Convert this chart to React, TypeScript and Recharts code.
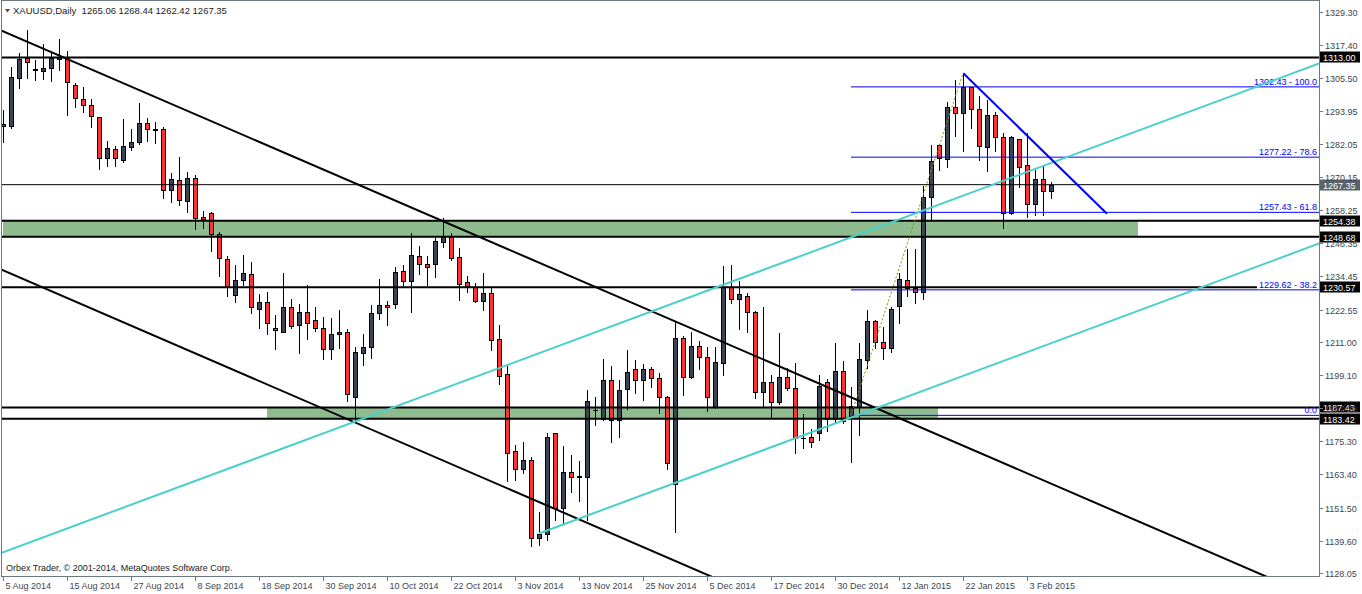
import React from 'react';
import { ComposedChart, Bar, XAxis, YAxis, ReferenceLine, ReferenceArea } from 'recharts';

const W = 1362;
const H = 594;
const PLOT_RIGHT = 1319;
const PLOT_BOTTOM = 576;
const FONT = '"Liberation Sans", Arial, sans-serif';
const BULL = '#3b4553';
const BEAR = '#ff3333';
const AXIS = '#6e7880';
const TXT = '#3c4650';
const CYAN = '#48D1CC';
const GREEN = '#8FBC8F';
const Y_MIN = 1126.97;
const Y_MAX = 1333.6;

const openP = [1288.41, 1288.41, 1305.52, 1312.69, 1308.49, 1308.24, 1309.10, 1312.33, 1313.05, 1303.11,
  1297.98, 1295.94, 1291.53, 1276.82, 1280.05, 1276.32, 1280.77, 1282.56, 1289.37, 1287.33,
  1287.22, 1265.34, 1268.93, 1261.61, 1269.75, 1255.66, 1257.09, 1249.56, 1240.70, 1227.68,
  1233.17, 1235.21, 1222.66, 1225.17, 1215.85, 1214.63, 1223.38, 1216.92, 1221.58, 1218.71,
  1215.85, 1208.31, 1213.69, 1214.41, 1191.31, 1207.09, 1209.03, 1221.23, 1224.09, 1224.45,
  1236.40, 1232.70, 1241.67, 1238.80, 1239.02, 1246.69, 1248.49, 1241.31, 1232.34, 1230.55,
  1225.75, 1228.40, 1211.90, 1199.45, 1171.73, 1165.49, 1168.50, 1140.52, 1141.96, 1178.18,
  1151.50, 1164.20, 1162.51, 1162.62, 1186.36, 1183.31, 1197.19, 1182.85, 1193.97, 1201.14,
  1197.19, 1201.14, 1197.91, 1191.10, 1160.00, 1212.26, 1198.27, 1209.50, 1205.44, 1187.51,
  1203.29, 1230.77, 1226.25, 1227.43, 1221.80, 1193.10, 1196.69, 1189.52, 1198.49, 1194.32,
  1176.32, 1176.75, 1178.18, 1196.48, 1183.21, 1200.53, 1184.50, 1187.72, 1204.48, 1218.46,
  1211.04, 1208.67, 1223.95, 1233.06, 1230.41, 1228.76, 1263.05, 1281.59, 1276.46, 1295.11,
  1292.96, 1302.29, 1294.40, 1280.98, 1292.24, 1284.35, 1257.09, 1283.64, 1274.31, 1260.32,
  1269.29, 1265.06];

const highP = [1294.15, 1309.46, 1314.48, 1322.84, 1312.08, 1317.71, 1315.06, 1319.61, 1315.31, 1303.94,
  1302.39, 1298.09, 1291.80, 1283.03, 1281.34, 1290.92, 1287.33, 1296.66, 1291.17, 1289.73,
  1288.05, 1271.55, 1277.29, 1271.91, 1270.83, 1258.03, 1257.67, 1250.28, 1241.78, 1238.55,
  1242.14, 1239.52, 1228.04, 1228.76, 1220.62, 1235.68, 1226.35, 1224.56, 1231.27, 1223.49,
  1220.01, 1219.54, 1222.41, 1215.59, 1209.25, 1213.69, 1224.20, 1233.53, 1225.75, 1237.94,
  1238.55, 1250.03, 1245.36, 1241.78, 1248.49, 1255.30, 1249.92, 1244.54, 1234.61, 1231.99,
  1235.79, 1230.19, 1217.03, 1203.04, 1173.99, 1174.96, 1169.79, 1149.96, 1178.18, 1178.40,
  1173.63, 1170.40, 1168.25, 1193.71, 1191.10, 1204.73, 1202.32, 1197.30, 1208.06, 1204.48,
  1203.04, 1201.86, 1199.92, 1191.40, 1218.11, 1213.08, 1214.63, 1211.40, 1209.03, 1209.03,
  1238.19, 1238.55, 1232.92, 1228.40, 1222.10, 1223.59, 1199.09, 1214.05, 1201.50, 1203.29,
  1185.00, 1179.62, 1199.09, 1197.66, 1210.47, 1204.12, 1194.90, 1210.47, 1222.41, 1218.82,
  1216.42, 1223.59, 1235.57, 1244.18, 1244.18, 1266.89, 1281.59, 1281.80, 1297.01, 1304.91,
  1307.31, 1302.50, 1299.17, 1297.73, 1293.54, 1286.00, 1284.82, 1283.80, 1286.00, 1272.62,
  1274.06, 1268.44];

const lowP = [1282.67, 1287.58, 1301.93, 1305.73, 1304.91, 1305.26, 1304.55, 1308.49, 1292.35, 1295.33,
  1293.54, 1287.94, 1272.88, 1274.17, 1274.17, 1275.39, 1279.80, 1282.06, 1283.13, 1282.42,
  1262.47, 1261.25, 1260.07, 1257.45, 1251.36, 1251.93, 1243.68, 1234.61, 1227.54, 1225.39,
  1231.38, 1221.44, 1215.85, 1213.69, 1208.31, 1214.41, 1215.85, 1206.88, 1212.12, 1214.98,
  1204.73, 1204.73, 1208.67, 1189.88, 1182.95, 1202.68, 1205.08, 1219.07, 1217.03, 1223.13,
  1230.77, 1221.80, 1235.32, 1231.38, 1234.35, 1245.11, 1240.34, 1226.00, 1228.76, 1225.39,
  1222.41, 1208.06, 1195.87, 1161.18, 1161.43, 1164.05, 1137.76, 1138.12, 1139.91, 1147.09,
  1146.12, 1157.13, 1153.90, 1147.09, 1181.16, 1183.00, 1175.17, 1176.96, 1186.79, 1192.75,
  1190.13, 1194.90, 1185.57, 1165.27, 1142.89, 1191.92, 1197.91, 1201.25, 1186.29, 1187.15,
  1199.09, 1224.81, 1215.59, 1214.63, 1190.74, 1187.72, 1183.92, 1188.69, 1193.71, 1171.01,
  1172.80, 1173.38, 1175.78, 1179.12, 1182.13, 1181.77, 1167.89, 1177.57, 1201.50, 1208.67,
  1204.73, 1207.45, 1217.85, 1227.43, 1225.03, 1226.25, 1254.44, 1272.62, 1273.81, 1284.93,
  1279.55, 1287.58, 1276.21, 1272.37, 1279.55, 1251.71, 1256.90, 1266.42, 1255.66, 1256.48,
  1256.48, 1262.42];

const closeP = [1289.12, 1305.87, 1312.44, 1311.25, 1308.85, 1309.21, 1312.69, 1313.26, 1304.08, 1298.34,
  1295.83, 1291.89, 1276.82, 1280.41, 1276.82, 1281.12, 1282.67, 1289.37, 1287.22, 1287.08,
  1265.34, 1269.29, 1261.76, 1269.75, 1255.30, 1254.94, 1249.56, 1240.95, 1230.55, 1233.17,
  1235.57, 1223.38, 1225.28, 1217.64, 1215.13, 1223.38, 1216.78, 1221.58, 1217.64, 1215.85,
  1208.31, 1213.69, 1214.41, 1192.17, 1207.24, 1209.14, 1221.23, 1224.09, 1223.38, 1235.93,
  1232.70, 1242.14, 1238.80, 1237.72, 1247.16, 1248.49, 1241.17, 1231.63, 1231.12, 1225.75,
  1228.40, 1211.76, 1198.84, 1171.23, 1165.49, 1168.50, 1140.52, 1141.96, 1176.75, 1151.28,
  1164.20, 1162.62, 1162.69, 1189.77, 1186.54, 1197.19, 1182.85, 1193.61, 1200.06, 1197.19,
  1201.14, 1197.91, 1191.10, 1167.43, 1212.26, 1198.27, 1209.50, 1205.44, 1191.10, 1203.65,
  1230.77, 1226.25, 1228.04, 1221.80, 1193.10, 1196.69, 1189.52, 1198.49, 1194.54, 1176.39,
  1176.50, 1175.17, 1195.26, 1183.21, 1200.53, 1182.60, 1188.08, 1204.83, 1218.57, 1211.04,
  1208.67, 1222.77, 1233.42, 1230.41, 1228.76, 1262.83, 1275.85, 1276.82, 1295.11, 1292.96,
  1302.29, 1294.40, 1281.34, 1292.24, 1284.35, 1257.31, 1284.35, 1273.81, 1260.32, 1269.29,
  1265.06, 1267.35];

const xTickIdx = [0, 8, 16, 24, 32, 40, 48, 56, 64, 72, 80, 88, 96, 104, 112, 120, 128];
const xTickLabels = ['5 Aug 2014', '15 Aug 2014', '27 Aug 2014', '8 Sep 2014', '18 Sep 2014', '30 Sep 2014',
  '10 Oct 2014', '22 Oct 2014', '3 Nov 2014', '13 Nov 2014', '25 Nov 2014', '5 Dec 2014', '17 Dec 2014',
  '30 Dec 2014', '12 Jan 2015', '22 Jan 2015', '3 Feb 2015'];
const yTicks = [1329.30, 1317.40, 1305.50, 1293.95, 1282.05, 1270.15, 1258.25, 1246.35, 1234.45, 1222.55,
  1211.00, 1199.10, 1187.20, 1175.30, 1163.40, 1151.50, 1139.60, 1128.05];

// horizontal levels
const thickLevels = [1313.00, 1254.38, 1248.68, 1187.43, 1183.42];
const currentPrice = 1267.35;
const supportLevel = 1230.57;
const supportEndIdx = 156.75;
// green zones [x1, x2, lowPrice, highPrice]
const zoneUpper = [0, 141.875, 1248.68, 1254.38];
const zoneLower = [33, 116.875, 1183.42, 1187.43];
// fibonacci
const fibStartIdx = 106;
const fibLevels = [1302.43, 1277.22, 1257.43, 1229.62, 1184.6];
const fibTexts = ['1302.43 - 100.0', '1277.22 - 78.6', '1257.43 - 61.8', '1229.62 - 38.2', '0.0'];
const fibBase = [106, 1184.6, 120, 1307.31];
// trendlines [x1, p1, x2, p2]
const blackChannelUpper = [-0.25, 1322.69, 164.5, 1118.61];
const blackChannelLower = [-0.25, 1236.97, 94.625, 1119.22];
const cyanUpper = [-0.25, 1135.21, 164.5, 1310.82];
const cyanLower = [67, 1142.21, 164.5, 1246.23];
const blueDown = [120.04, 1307.31, 138.0, 1256.95];

const data = openP.map((o, i) => ({
  i,
  o,
  h: highP[i],
  l: lowP[i],
  c: closeP[i],
  range: [lowP[i], highP[i]],
}));

function Candle(props: any) {
  const { x, y, width, height, payload } = props;
  if (!payload || x == null || y == null) return null;
  const { o, h, l, c } = payload;
  const cx = Math.round(x + width / 2);
  const span = h - l;
  const py = (p: number) => (span > 0 ? y + ((h - p) / span) * height : y);
  const bull = c >= o;
  const top = Math.round(py(Math.max(o, c)));
  const bot = Math.round(py(Math.min(o, c)));
  const yH = Math.round(py(h));
  const yL = Math.round(py(l));
  return (
    <g>
      <line x1={cx + 0.5} x2={cx + 0.5} y1={yH} y2={yL + 1} stroke="#000" strokeWidth={1} />
      {bot - top >= 1 ? (
        <rect x={cx - 1.5} y={top + 0.5} width={4} height={bot - top} fill={bull ? BULL : BEAR} stroke="#000" strokeWidth={1} />
      ) : (
        <line x1={cx - 2} x2={cx + 3} y1={top + 0.5} y2={top + 0.5} stroke="#000" strokeWidth={1} />
      )}
    </g>
  );
}

const priceBox = (text: string, fill: string) => (props: any) => {
  const vb = props && props.viewBox;
  if (!vb) return null;
  const yy = Math.round(vb.y);
  return (
    <g>
      <rect x={PLOT_RIGHT + 1} y={yy - 5.5} width={40} height={11} fill={fill} />
      <text x={PLOT_RIGHT + 4} y={yy + 3.5} fill="#fff" fontSize={9} fontFamily={FONT}>{text}</text>
    </g>
  );
};

const fibLabel = (text: string) => (props: any) => {
  const vb = props && props.viewBox;
  if (!vb) return null;
  return (
    <text x={vb.x + vb.width - 2} y={vb.y - 2} textAnchor="end" fill="#0000ff" fontSize={9} fontFamily={FONT}>{text}</text>
  );
};

const XTick = (p: any) => {
  const v = p.payload ? p.payload.value : 0;
  const k = xTickIdx.indexOf(v);
  const xx = Math.round(p.x) + 0.5;
  return (
    <g>
      <line x1={xx} x2={xx} y1={PLOT_BOTTOM} y2={PLOT_BOTTOM + 5} stroke={AXIS} />
      <text x={xx + 2} y={PLOT_BOTTOM + 13} fill={TXT} fontSize={9} fontFamily={FONT}>{k >= 0 ? xTickLabels[k] : ''}</text>
    </g>
  );
};

const YTick = (p: any) => {
  const v = p.payload ? p.payload.value : 0;
  const yy = Math.round(p.y) + 0.5;
  return (
    <g>
      <line x1={PLOT_RIGHT} x2={PLOT_RIGHT + 4} y1={yy} y2={yy} stroke={AXIS} />
      <text x={PLOT_RIGHT + 6} y={yy + 3} fill={TXT} fontSize={9} fontFamily={FONT}>{Number(v).toFixed(2)}</text>
    </g>
  );
};

const seg = (a: number[]) => [{ x: a[0], y: a[1] }, { x: a[2], y: a[3] }];

export default function App() {
  return (
    <div style={{ position: 'relative', width: W, height: H, background: '#fff' }}>
      <style>{'body{margin:0;background:#fff;}'}</style>
      <ComposedChart width={W} height={H} data={data} margin={{ top: 0, right: 0, bottom: 0, left: 1 }}>
        <XAxis
          type="number"
          dataKey="i"
          domain={[-0.25, 164.5]}
          allowDataOverflow
          ticks={xTickIdx}
          interval={0}
          tickLine={false}
          axisLine={false}
          height={18}
          tick={(p: any) => <XTick {...p} />}
        />
        <YAxis
          orientation="right"
          type="number"
          domain={[Y_MIN, Y_MAX]}
          allowDataOverflow
          ticks={yTicks}
          interval={0}
          width={43}
          tickLine={false}
          axisLine={false}
          tick={(p: any) => <YTick {...p} />}
        />
        <ReferenceArea x1={zoneUpper[0]} x2={zoneUpper[1]} y1={zoneUpper[2]} y2={zoneUpper[3]} fill={GREEN} fillOpacity={1} stroke="none" ifOverflow="visible" />
        <ReferenceArea x1={zoneLower[0]} x2={zoneLower[1]} y1={zoneLower[2]} y2={zoneLower[3]} fill={GREEN} fillOpacity={1} stroke="none" ifOverflow="visible" />
        <Bar dataKey="range" barSize={5} isAnimationActive={false} shape={(p: any) => <Candle {...p} />} />
        {thickLevels.map((p) => (
          <ReferenceLine key={'t' + p} y={p} stroke="#000" strokeWidth={2} label={priceBox(p.toFixed(2), '#000')} />
        ))}
        <ReferenceLine y={currentPrice} stroke="#000" strokeWidth={1} label={priceBox(currentPrice.toFixed(2), '#59636d')} />
        <ReferenceLine
          segment={[{ x: -0.25, y: supportLevel }, { x: supportEndIdx, y: supportLevel }]}
          stroke="#000"
          strokeWidth={2}
          ifOverflow="visible"
          label={priceBox(supportLevel.toFixed(2), '#000')}
        />
        {fibLevels.map((p, k) => (
          <ReferenceLine
            key={'f' + p}
            segment={[{ x: fibStartIdx, y: p }, { x: 164.5, y: p }]}
            stroke="#0000ff"
            strokeWidth={1}
            ifOverflow="visible"
            label={fibLabel(fibTexts[k])}
          />
        ))}
        <ReferenceLine segment={seg(fibBase)} stroke="#8c8c00" strokeWidth={1} strokeDasharray="2 2" ifOverflow="hidden" />
        <ReferenceLine segment={seg(blackChannelUpper)} stroke="#000" strokeWidth={2} ifOverflow="hidden" />
        <ReferenceLine segment={seg(blackChannelLower)} stroke="#000" strokeWidth={2} ifOverflow="hidden" />
        <ReferenceLine segment={seg(cyanUpper)} stroke={CYAN} strokeWidth={2} ifOverflow="hidden" />
        <ReferenceLine segment={seg(cyanLower)} stroke={CYAN} strokeWidth={2} ifOverflow="hidden" />
        <ReferenceLine segment={seg(blueDown)} stroke="#0000ff" strokeWidth={2} ifOverflow="hidden" />
      </ComposedChart>
      <svg width={W} height={H} style={{ position: 'absolute', left: 0, top: 0, pointerEvents: 'none' }}>
        <rect x={1.5} y={0.5} width={PLOT_RIGHT - 1} height={PLOT_BOTTOM} fill="none" stroke={AXIS} strokeWidth={1} />
        <polygon points="5,9 10,9 7.5,12.5" fill="#4a4a4a" />
        <text x={13} y={13.5} fill="#222" fontSize={9.5} fontFamily={FONT} style={{ whiteSpace: 'pre' }}>
          {'XAUUSD,Daily  1265.06 1268.44 1262.42 1267.35'}
        </text>
        <text x={6} y={571} fill="#222" fontSize={9} fontFamily={FONT}>
          {'Orbex Trader, \u00A9 2001-2014, MetaQuotes Software Corp.'}
        </text>
      </svg>
    </div>
  );
}
